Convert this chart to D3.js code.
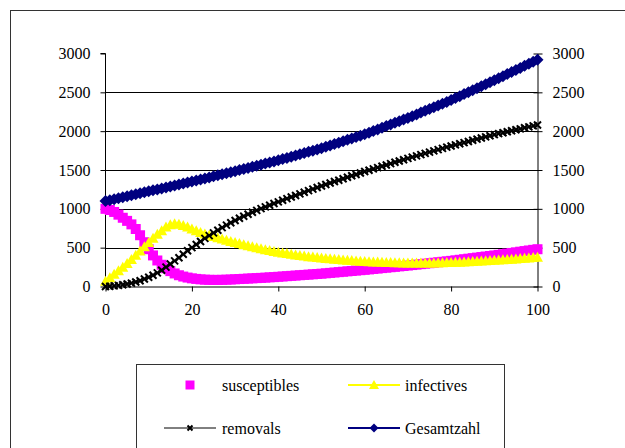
<!DOCTYPE html>
<html>
<head>
<meta charset="utf-8">
<script src="https://cdn.jsdelivr.net/npm/d3@7"></script>
<style>
  html, body { margin: 0; padding: 0; background: #fff; }
  svg { display: block; }
  svg text { font-family: "Liberation Serif", "Times New Roman", serif !important; font-size: 16px; fill: #000; }
</style>
</head>
<body>
<svg id="chart" width="625" height="448"></svg>
<script>
// time steps 0..100
const days = d3.range(0, 101);

const susceptibles = [
  1000, 985, 960, 925, 885, 845, 800, 740, 660, 570, 480,
  400, 335, 280, 235, 198, 168, 145, 128, 115, 105,
  98, 92, 88, 86, 85, 85, 86, 88, 90, 93,
  96, 99, 102, 105, 108, 111, 114, 118, 121, 125,
  129, 133, 137, 141, 145, 149, 153, 157, 161, 165,
  170, 175, 180, 185, 190, 195, 200, 205, 210, 215,
  220, 226, 231, 237, 242, 248, 253, 259, 264, 270,
  276, 282, 288, 294, 300, 306, 312, 318, 324, 330,
  337, 344, 351, 358, 365, 372, 379, 386, 393, 400,
  408, 416, 424, 432, 440, 448, 456, 464, 472, 480
];

const infectives = [
  60, 105, 150, 195, 240, 290, 340, 395, 450, 505, 560,
  615, 665, 710, 760, 790, 800, 795, 780, 760, 735,
  712, 690, 670, 652, 636, 620, 604, 589, 574, 560,
  546, 532, 518, 504, 491, 479, 467, 456, 445, 435,
  426, 417, 408, 400, 392, 385, 378, 372, 366, 360,
  355, 350, 345, 340, 335, 331, 327, 323, 319, 315,
  313, 310, 308, 305, 303, 302, 300, 299, 297, 296,
  296, 295, 295, 296, 296, 297, 298, 300, 301, 303,
  305, 307, 310, 312, 315, 318, 321, 324, 327, 330,
  334, 338, 341, 345, 349, 353, 357, 361, 366, 370
];

const removals = [
  0, 3, 8, 14, 22, 32, 44, 58, 75, 96, 120,
  145, 175, 210, 250, 290, 330, 370, 415, 460, 500,
  540, 580, 620, 655, 690, 725, 758, 790, 820, 850,
  878, 905, 931, 956, 980, 1003, 1025, 1047, 1069, 1090,
  1111, 1131, 1152, 1172, 1193, 1213, 1234, 1254, 1275, 1295,
  1314, 1332, 1351, 1369, 1388, 1406, 1425, 1443, 1462, 1480,
  1497, 1514, 1531, 1548, 1565, 1582, 1599, 1616, 1633, 1650,
  1666, 1682, 1698, 1714, 1730, 1746, 1762, 1778, 1794, 1810,
  1824, 1839, 1853, 1868, 1882, 1897, 1911, 1926, 1940, 1955,
  1968, 1980, 1993, 2005, 2018, 2030, 2043, 2055, 2068, 2080
];

const gesamtzahl = [
  1100, 1112, 1125, 1137, 1150, 1162, 1175, 1187, 1200, 1212, 1225,
  1238, 1250, 1263, 1276, 1289, 1301, 1314, 1327, 1339, 1352,
  1365, 1379, 1392, 1405, 1419, 1432, 1445, 1458, 1472, 1485,
  1499, 1513, 1527, 1541, 1555, 1569, 1583, 1597, 1611, 1625,
  1641, 1656, 1672, 1687, 1703, 1718, 1734, 1749, 1765, 1780,
  1798, 1816, 1834, 1852, 1870, 1888, 1906, 1924, 1942, 1960,
  1981, 2002, 2023, 2044, 2065, 2086, 2107, 2128, 2149, 2170,
  2193, 2216, 2239, 2262, 2285, 2308, 2331, 2354, 2377, 2400,
  2426, 2451, 2477, 2502, 2528, 2553, 2579, 2604, 2630, 2655,
  2682, 2708, 2735, 2761, 2788, 2814, 2841, 2867, 2894, 2920
];

const xTicks = [0, 20, 40, 60, 80, 100];
const yTicks = [0, 500, 1000, 1500, 2000, 2500, 3000];
const seriesNames = ["susceptibles", "infectives", "removals", "Gesamtzahl"];

const svg = d3.select("#chart");
const serif = '"Liberation Serif", "Times New Roman", serif';

// outer chart frame
svg.append("rect")
  .attr("x", 10.5).attr("y", 10.5)
  .attr("width", 640).attr("height", 460)
  .attr("fill", "#fff").attr("stroke", "#333").attr("stroke-width", 1);

const x = d3.scaleLinear().domain([0, 100]).range([105.5, 537.5]);
const y = d3.scaleLinear().domain([0, 3000]).range([286.5, 53.5]);

// horizontal gridlines
svg.append("g").selectAll("line")
  .data(yTicks.filter(v => v > 0 && v < 3000))
  .join("line")
  .attr("x1", x(0)).attr("x2", x(100))
  .attr("y1", d => Math.round(y(d)) + 0.5).attr("y2", d => Math.round(y(d)) + 0.5)
  .attr("stroke", "#000").attr("stroke-width", 1);

// left axis
const leftAxis = svg.append("g")
  .attr("transform", `translate(${x(0)},0)`)
  .call(d3.axisLeft(y).tickValues(yTicks).tickSize(5).tickPadding(10).tickFormat(d3.format("d")));
// right axis
const rightAxis = svg.append("g")
  .attr("transform", `translate(${x(100)},0)`)
  .call(d3.axisRight(y).tickValues(yTicks).tickSizeInner(5).tickSizeOuter(0).tickPadding(10).tickFormat(d3.format("d")));
rightAxis.selectAll(".tick line").attr("x1", -4);
// bottom axis
const bottomAxis = svg.append("g")
  .attr("transform", `translate(0,${y(0)})`)
  .call(d3.axisBottom(x).tickValues(xTicks).tickSizeInner(5).tickSizeOuter(0).tickPadding(12));

[leftAxis, rightAxis, bottomAxis].forEach(g => {
  g.attr("font-family", null).attr("font-size", null);
  g.selectAll(".domain").attr("stroke", "#000");
  g.selectAll(".tick line").attr("stroke", "#000");
  g.selectAll("text").style("font-family", serif).style("font-size", "16px").attr("fill", "#000");
});
leftAxis.select(".domain").attr("d", `M-5,${y(3000)}H0V${y(0)}`);

const plot = svg.append("g");
const lineGen = vals => d3.line().x((d, i) => x(days[i])).y(d => y(d))(vals);

const squarePath = d3.symbol().type(d3.symbolSquare).size(100)();
const trianglePath = "M0,-6L5.5,4L-5.5,4Z";
const diamondPath = "M0,-6L6,0L0,6L-6,0Z";
const crossPath = "M-3.5,-3.5L3.5,3.5M-3.5,3.5L3.5,-3.5";

// susceptibles: markers only
plot.append("g").selectAll("path")
  .data(susceptibles).join("path")
  .attr("d", squarePath)
  .attr("transform", (d, i) => `translate(${x(days[i])},${y(d)})`)
  .attr("fill", "#ff00ff");

// infectives: line with triangles
plot.append("path").attr("d", lineGen(infectives))
  .attr("fill", "none").attr("stroke", "#ffff00").attr("stroke-width", 2);
plot.append("g").selectAll("path")
  .data(infectives).join("path")
  .attr("d", trianglePath)
  .attr("transform", (d, i) => `translate(${x(days[i])},${y(d)})`)
  .attr("fill", "#ffff00");

// removals: line with x marks
plot.append("path").attr("d", lineGen(removals))
  .attr("fill", "none").attr("stroke", "#000").attr("stroke-width", 1);
plot.append("g").selectAll("path")
  .data(removals).join("path")
  .attr("d", crossPath)
  .attr("transform", (d, i) => `translate(${x(days[i])},${y(d)})`)
  .attr("fill", "none").attr("stroke", "#000").attr("stroke-width", 2);

// Gesamtzahl: line with diamonds
plot.append("path").attr("d", lineGen(gesamtzahl))
  .attr("fill", "none").attr("stroke", "#000080").attr("stroke-width", 2);
plot.append("g").selectAll("path")
  .data(gesamtzahl).join("path")
  .attr("d", diamondPath)
  .attr("transform", (d, i) => `translate(${x(days[i])},${y(d)})`)
  .attr("fill", "#000080");

// legend
const legend = svg.append("g");
legend.append("rect")
  .attr("x", 136.5).attr("y", 364.5).attr("width", 368).attr("height", 120)
  .attr("fill", "#fff").attr("stroke", "#333").attr("stroke-width", 1);

const legendMarkers = {
  square: d3.symbol().type(d3.symbolSquare).size(81)(),
  triangle: "M0,-5L5,4L-5,4Z",
  cross: "M-2.5,-2.5L2.5,2.5M-2.5,2.5L2.5,-2.5",
  diamond: "M0,-4.5L4.5,0L0,4.5L-4.5,0Z"
};
const legendItems = [
  { name: seriesNames[0], cx: 190, tx: 222, cy: 385, line: false, marker: legendMarkers.square, color: "#ff00ff", stroke: false },
  { name: seriesNames[1], cx: 374, tx: 405, cy: 385, line: true, marker: legendMarkers.triangle, color: "#ffff00", stroke: false, lw: 2 },
  { name: seriesNames[2], cx: 190, tx: 222, cy: 428, line: true, marker: legendMarkers.cross, color: "#000", stroke: true, lw: 1 },
  { name: seriesNames[3], cx: 374, tx: 405, cy: 428, line: true, marker: legendMarkers.diamond, color: "#000080", stroke: false, lw: 2 }
];
legendItems.forEach(it => {
  if (it.line) {
    legend.append("line")
      .attr("x1", it.cx - 26).attr("x2", it.cx + 26)
      .attr("y1", it.cy).attr("y2", it.cy)
      .attr("stroke", it.color).attr("stroke-width", it.lw);
  }
  const m = legend.append("path").attr("d", it.marker)
    .attr("transform", `translate(${it.cx},${it.cy})`);
  if (it.stroke) m.attr("fill", "none").attr("stroke", it.color).attr("stroke-width", 2);
  else m.attr("fill", it.color);
  legend.append("text").attr("x", it.tx).attr("y", it.cy + 5.5).text(it.name);
});
</script>
</body>
</html>
